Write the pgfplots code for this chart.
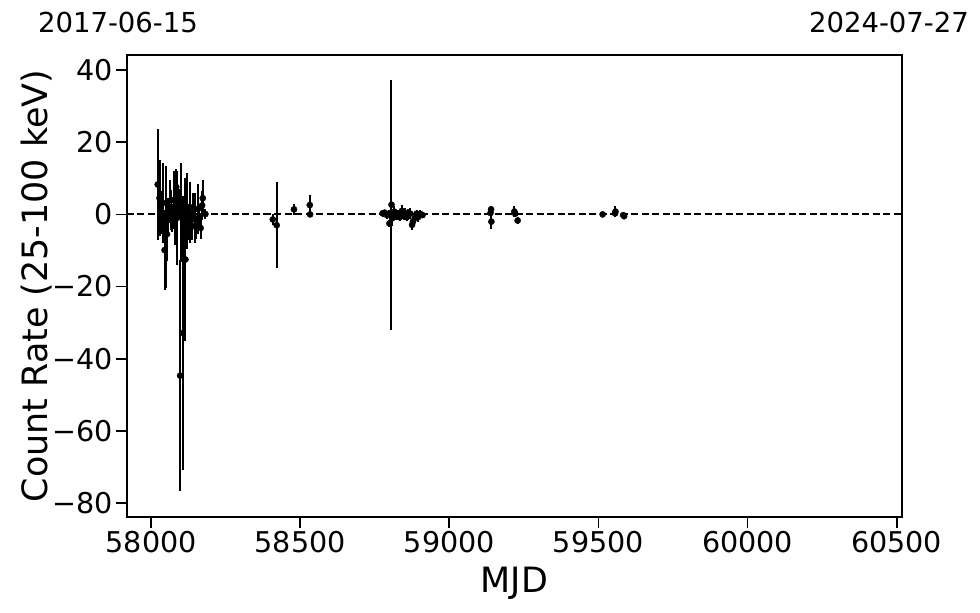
\documentclass[border=0pt]{standalone}
\usepackage{pgfplots}
\pgfplotsset{compat=1.18}
\usepackage{pgfplotstable}
\usepackage{fontspec}
\setmainfont{DejaVu Sans}

\pgfplotstableread{
x y ey
58022 8.3 15.4
58028 4.5 10.5
58033 0.5 6
58040 3.2 11
58045 -9.9 11
58049 -3.5 17
58053 -5.5 7.5
58057 -0.5 5
58062 3.5 6
58065 1.2 5.5
58070 -1 4
58075 4 8
58079 0.5 9
58081 -1.0 3
58084 7.6 5
58087 -1 13
58092 3.1 4
58097 -44.7 32
58101 0.5 13.7
58106 -32.9 38
58115 -12.5 22.5
58120 1 10.5
58125 -2 5
58130 0.5 8.5
58136 -3 4
58141 2 4
58146 -1 7
58152 -3.8 3
58157 1.5 7
58162 -1 3
58166 -3.8 3
58171 2.5 4
58173 4.5 5
58182 0.1 1.5
58408 -1.4 1.5
58421 -3.0 11.9
58479 1.4 1.5
58532 2.6 2.8
58533 0 0.5
58776 0.3 1
58783 0.5 0.8
58791 -0.2 1
58797 0.2 1
58799 -2.5 1
58806 2.7 34.7
58808 -1.1 2
58815 0.8 1.5
58820 -0.5 1
58827 0.3 1
58833 -0.8 1
58841 1 1.5
58847 -0.5 1
58850 0.5 1.2
58857 -0.8 1
58863 0.5 1
58869 0.2 1.5
58875 -2.9 1.5
58878 -2 1
58884 -1 1
58890 0.2 1
58895 -0.8 1.2
58903 0.1 1
58910 -0.2 0.8
59138 0.4 0.8
59140 1.4 1
59141 -2 2
59218 0.8 1.5
59221 0.2 1
59229 -1.7 1
59514 0 0.3
59556 0.3 0.8
59557 0.8 1.5
59583 -0.2 0.6
59586 -0.5 0.7
}\rates

\begin{document}
\begin{tikzpicture}
\useasboundingbox (-127pt,-96pt) rectangle (853pt,517pt);
\begin{axis}[
  scale only axis,
  width=775pt, height=462pt,
  xmin=57919, xmax=60518,
  ymin=-83.9, ymax=44.2,
  axis line style={line width=1.2pt},
  scaled x ticks=false,
  xtick={58000,58500,59000,59500,60000,60500},
  xticklabels={58000,58500,59000,59500,60000,60500},
  ytick={-80,-60,-40,-20,0,20,40},
  yticklabels={−80,−60,−40,−20,0,20,40},
  tick align=outside,
  xtick pos=bottom, ytick pos=left,
  major tick length=11pt,
  every tick/.style={black, line width=1.8pt},
  tick label style={font=\fontsize{28.6}{28.6}\selectfont},
  xlabel={MJD},
  ylabel={Count Rate (25-100 keV)},
  every axis x label/.style={at={(rel axis cs:0.5,0)}, yshift=-66pt, anchor=center, font=\fontsize{34.9}{34.9}\selectfont},
  every axis y label/.style={at={(rel axis cs:0,0.5)}, xshift=-90pt, rotate=90, anchor=center, font=\fontsize{34.9}{34.9}\selectfont},
  clip=true,
]
\addplot[black, line width=2pt, dash pattern=on 7pt off 3.5pt] coordinates {(57919,0) (60518,0)};
\addplot[only marks, mark=*, mark size=3.1pt, black,
  error bars/.cd, y dir=both, y explicit,
  error bar style={line width=2pt, black}, error mark=none]
  table[x=x, y=y, y error=ey] {\rates};
\end{axis}
\node[font=\fontsize{27.5}{27.5}\selectfont] at (-9pt,495pt) {2017-06-15};
\node[font=\fontsize{27.5}{27.5}\selectfont] at (762pt,495pt) {2024-07-27};
\end{tikzpicture}
\end{document}
